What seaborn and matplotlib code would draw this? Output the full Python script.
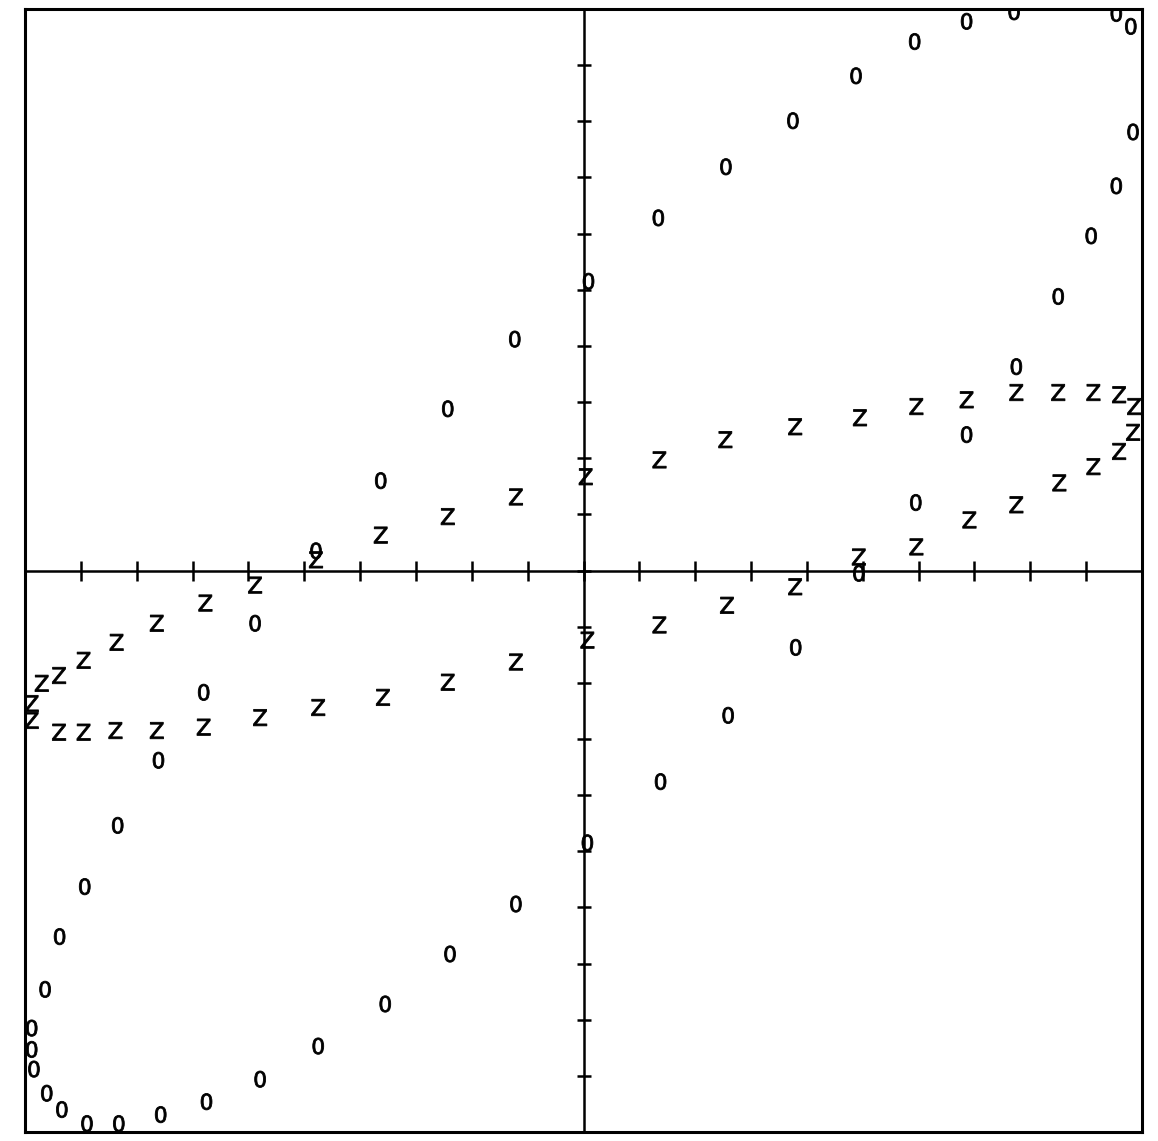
import matplotlib
matplotlib.use("Agg")
import matplotlib.pyplot as plt
import seaborn as sns
import numpy as np
import pandas as pd

# "0" series (large tilted loop)
o_x = [4.93, 5.95, 6.86, 7.75, 8.50, 9.09, 9.54, 9.84, 9.80, 9.54, 7.71, 6.86, 5.93, 4.88,
       3.75, 2.55, 1.34, 0.09, -1.23, -2.43, -3.63, -4.79, -5.88, -6.80, -7.61, -8.34,
       -8.93, -9.38, -9.64, -9.88, -9.88, -9.84, -9.61, -9.34, -8.89, -8.32, -7.57, -6.75,
       -5.79, -4.75, -3.55, -2.39, -1.21, 0.07, 1.38, 2.59, 3.80]
o_y = [-0.05, 1.21, 2.42, 3.63, 4.88, 5.96, 6.85, 7.81, 9.69, 9.92, 9.95, 9.78, 9.42, 8.81,
       8.01, 7.19, 6.28, 5.15, 4.12, 2.88, 1.60, 0.35, -0.94, -2.17, -3.38, -4.54,
       -5.63, -6.52, -7.46, -8.15, -8.53, -8.88, -9.31, -9.60, -9.85, -9.85, -9.69, -9.46,
       -9.06, -8.47, -7.72, -6.83, -5.94, -4.85, -3.76, -2.58, -1.37]

# "Z" series (thin tilted loop)
z_x = [9.86, 9.59, 9.13, 8.50, 7.75, 6.86, 5.96, 4.95, 3.79, 2.54, 1.36, 0.04, -1.21, -2.43,
       -3.63, -4.79, -5.88, -6.77, -7.64, -8.36, -8.95, -9.39, -9.70, -9.88, -9.88,
       -9.39, -8.95, -8.38, -7.64, -6.80, -5.79, -4.75, -3.59, -2.43, -1.21, 0.07, 1.36,
       2.57, 3.79, 4.93, 5.96, 6.91, 7.75, 8.52, 9.13, 9.59, 9.84]
z_y = [2.92, 3.13, 3.17, 3.17, 3.17, 3.04, 2.92, 2.72, 2.56, 2.33, 1.97, 1.67, 1.31, 0.96,
       0.63, 0.19, -0.26, -0.58, -0.94, -1.28, -1.60, -1.87, -2.01, -2.37, -2.67,
       -2.88, -2.88, -2.85, -2.85, -2.79, -2.62, -2.44, -2.26, -1.99, -1.63, -1.24, -0.97,
       -0.62, -0.29, 0.24, 0.42, 0.90, 1.17, 1.56, 1.85, 2.12, 2.46]

x_ticks = list(range(-9, 10))
y_ticks = list(range(-9, 10))

df = pd.DataFrame({
    "x": o_x + z_x,
    "y": o_y + z_y,
    "series": ["0"] * len(o_x) + ["Z"] * len(z_x),
})

sns.set_theme(style="white")
fig = plt.figure(figsize=(11.58, 11.41), dpi=100)
ax = fig.add_axes([25 / 1158, 9 / 1141, 1117 / 1158, 1123 / 1141])

ax.axhline(0, color="black", lw=1.8, zorder=1)
ax.axvline(0, color="black", lw=1.8, zorder=1)
ax.plot(x_ticks, [0] * len(x_ticks), ls="", marker="|", ms=15, mew=1.8, color="black", zorder=1)
ax.plot([0] * len(y_ticks), y_ticks, ls="", marker="_", ms=10, mew=1.8, color="black", zorder=1)

sns.scatterplot(data=df, x="x", y="y", style="series",
                markers={"0": "$0$", "Z": r"$\mathrm{Z}$"},
                color="black", s=140, linewidth=0.6, edgecolor="black",
                legend=False, ax=ax, zorder=3)

ax.set_xlim(-10, 10)
ax.set_ylim(-10, 10)
ax.set_xticks([])
ax.set_yticks([])
ax.set_xlabel("")
ax.set_ylabel("")
for sp in ax.spines.values():
    sp.set_visible(True)
    sp.set_color("black")
    sp.set_linewidth(2.2)

fig.savefig("out.png", dpi=100, facecolor="white")
